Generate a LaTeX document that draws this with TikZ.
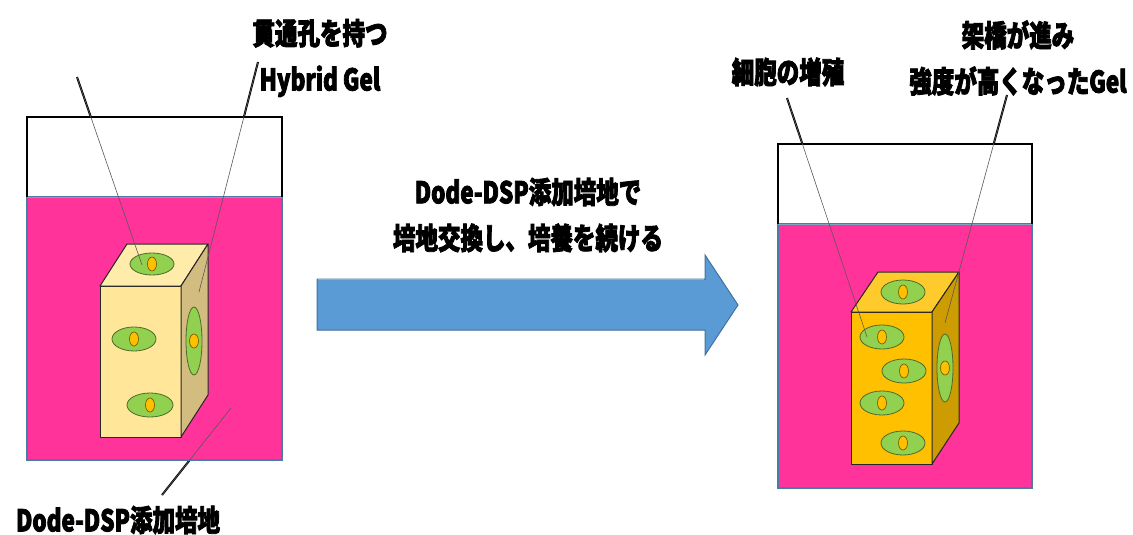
\documentclass[tikz,border=0pt]{standalone}
\usepackage{fontspec}
\newfontfamily\jp{Noto Sans CJK JP}[FakeStretch=0.75, BoldFeatures={FakeBold=2.6}]
\definecolor{medium}{HTML}{FF3399}
\definecolor{mediumedge}{HTML}{4A7BA6}
\definecolor{cellgreen}{HTML}{92D050}
\definecolor{celledge}{HTML}{4E6B2A}
\definecolor{nucyellow}{HTML}{FFC000}
\definecolor{nucedge}{HTML}{7F6000}
\definecolor{gelAfront}{HTML}{FFE699}
\definecolor{gelAtop}{HTML}{FFEBAA}
\definecolor{gelAside}{HTML}{D2BC80}
\definecolor{gelBfront}{HTML}{FFC000}
\definecolor{gelBtop}{HTML}{FFCA2C}
\definecolor{gelBside}{HTML}{CC9C00}
\definecolor{arrowblue}{HTML}{5B9BD5}
\definecolor{arrowedge}{HTML}{41719C}
\begin{document}
\begin{tikzpicture}[x=1pt,y=-1pt,
  lbl/.style={font={\jp\bfseries\fontsize{30}{46}\selectfont}, align=center, inner sep=0pt},
  leadout/.style={line width=2pt, black},
  leadin/.style={line width=0.6pt, black!65},
  water/.style={fill=medium, draw=mediumedge, line width=1.5pt, minimum width=255pt, inner sep=0pt},
  air/.style={draw=black, line width=2.5pt},
  face/.style={draw=black!85, line width=1pt, line join=round},
  cell/.style={fill=cellgreen, draw=celledge, line width=0.8pt},
  nuc/.style={fill=nucyellow, draw=nucedge, line width=0.7pt}]
\useasboundingbox (0,0) rectangle (1133,535);

% leader line ends
\coordinate (l1a) at (77,77);   \coordinate (l1b) at (142,265);
\coordinate (l2a) at (258,62);  \coordinate (l2b) at (199,292);
\coordinate (l3a) at (162,495); \coordinate (l3b) at (231,408);
\coordinate (r1a) at (787,98);  \coordinate (r1b) at (867,337);
\coordinate (r2a) at (1007,95); \coordinate (r2b) at (945,323);

% heavy parts of the leaders (hidden inside the vessels)
\foreach \p/\q in {l1a/l1b,l2a/l2b,l3a/l3b,r1a/r1b,r2a/r2b}
  \draw[leadout] (\p) -- (\q);

% ---- left vessel ----
\fill[white] (27,117) rectangle (282,197);
\node[water, minimum height=263pt] (mediumA) at (154.5,328.5) {};
\draw[air] (27,197) -- (27,117) -- (282,117) -- (282,197);
\draw[mediumedge!70, line width=1pt] (27,197) -- (282,197);

% ---- left gel block ----
\filldraw[face, fill=gelAfront] (100,286) rectangle (181,437);
\filldraw[face, fill=gelAtop] (100,286) -- (127,244) -- (208,244) -- (181,286) -- cycle;
\filldraw[face, fill=gelAside] (181,286) -- (208,244) -- (208,395) -- (181,437) -- cycle;
\draw[cell] (152,264) ellipse [x radius=22pt, y radius=11pt];
\draw[nuc]  (152,264) ellipse [x radius=4.5pt, y radius=7pt];
\draw[cell] (134,339) ellipse [x radius=22pt, y radius=12pt];
\draw[nuc]  (134,339) ellipse [x radius=4.5pt, y radius=7pt];
\draw[cell] (150,405) ellipse [x radius=23pt, y radius=12pt];
\draw[nuc]  (150,405) ellipse [x radius=4.5pt, y radius=7pt];
\draw[cell] (194,341) ellipse [x radius=8pt, y radius=34pt];
\draw[nuc]  (194,341) ellipse [x radius=4.5pt, y radius=7pt];

% ---- right vessel ----
\fill[white] (778,144) rectangle (1032,224);
\node[water, minimum width=254pt, minimum height=264pt] (mediumB) at (905,356) {};
\draw[air] (778,224) -- (778,144) -- (1032,144) -- (1032,224);
\draw[mediumedge!70, line width=1pt] (778,224) -- (1032,224);

% ---- right gel block ----
\filldraw[face, fill=gelBfront] (851,312) rectangle (932,464);
\filldraw[face, fill=gelBtop] (851,312) -- (878,272) -- (959,272) -- (932,312) -- cycle;
\filldraw[face, fill=gelBside] (932,312) -- (959,272) -- (959,423) -- (932,464) -- cycle;
\foreach \cx/\cy in {903/292, 882/337, 904/371, 882/403, 903/443}{
  \draw[cell] (\cx,\cy) ellipse [x radius=22pt, y radius=12pt];
  \draw[nuc]  (\cx,\cy) ellipse [x radius=4.5pt, y radius=7pt];
}
\draw[cell] (945,368) ellipse [x radius=8pt, y radius=34pt];
\draw[nuc]  (945,368) ellipse [x radius=4.5pt, y radius=7pt];

% thin leaders across the vessels
\foreach \p/\q in {l1a/l1b,l2a/l2b,l3a/l3b,r1a/r1b,r2a/r2b}
  \draw[leadin] (\p) -- (\q);

% ---- process arrow ----
\filldraw[fill=arrowblue, draw=arrowedge, line width=1pt, line join=miter]
  (317,279) -- (705,279) -- (705,255) -- (738,305) -- (705,355) -- (705,330) -- (317,330) -- cycle;
\draw[cyan!70, line width=0.8pt] (318,279) -- (704,279);

% ---- labels ----
\node[lbl] (gelA) at (320,58) {貫通孔を持つ\\Hybrid Gel};
\node[lbl] (mediumlbl) at (118,520) {Dode-DSP添加培地};
\node[lbl] (step) at (528,215) {Dode-DSP添加培地で\\培地交換し、培養を続ける};
\node[lbl] (cells) at (788,72) {細胞の増殖};
\node[lbl] (gelB) at (1018,58) {架橋が進み\\強度が高くなったGel};
\end{tikzpicture}
\end{document}
